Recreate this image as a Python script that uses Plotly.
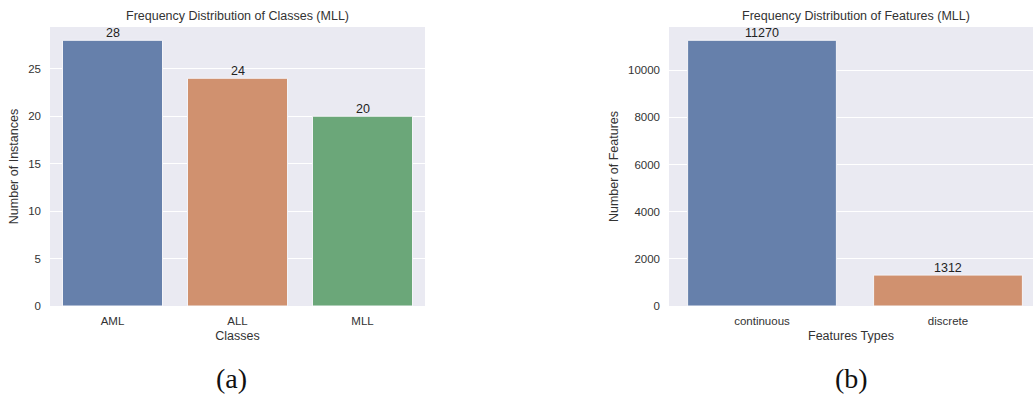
import plotly.graph_objects as go

classes = ["AML", "ALL", "MLL"]
class_counts = [28, 24, 20]
class_colors = ["#6680ab", "#d0916f", "#6ba779"]

feature_types = ["continuous", "discrete"]
feature_counts = [11270, 1312]
feature_colors = ["#6680ab", "#d0916f"]

W, H = 1033, 396
font = "Liberation Sans, Arial, sans-serif"

fig = go.Figure()
fig.add_trace(go.Bar(x=classes, y=class_counts, marker=dict(color=class_colors, line=dict(color="#f4f4f8", width=1)),
                     xaxis="x", yaxis="y", showlegend=False))
fig.add_trace(go.Bar(x=feature_types, y=feature_counts, marker=dict(color=feature_colors, line=dict(color="#f4f4f8", width=1)),
                     xaxis="x2", yaxis="y2", showlegend=False))

ydom = [(H - 306) / H, (H - 27) / H]
axfont = dict(family=font, size=11.5, color="#333")
common_y = dict(showgrid=True, gridcolor="white", gridwidth=1, zeroline=False, ticks="", tickfont=axfont,
                showline=False, automargin=False, ticklabelstandoff=8)
common_x = dict(showgrid=False, zeroline=False, ticks="", tickfont=axfont, showline=False, automargin=False,
                ticklabelstandoff=6)

anns = []
for c, v in zip(classes, class_counts):
    anns.append(dict(x=c, y=v, xref="x", yref="y", text=str(v), showarrow=False, yanchor="bottom",
                     yshift=-2, font=dict(size=12.5, color="#222")))
for c, v in zip(feature_types, feature_counts):
    anns.append(dict(x=c, y=v, xref="x2", yref="y2", text=str(v), showarrow=False, yanchor="bottom",
                     yshift=-2, font=dict(size=12.5, color="#222")))

anns += [
    dict(text="Frequency Distribution of Classes (MLL)", x=237.5 / W, y=(H - 16) / H, xref="paper", yref="paper",
         showarrow=False, font=dict(size=12.5, color="#333"), xanchor="center", yanchor="middle"),
    dict(text="Frequency Distribution of Features (MLL)", x=856 / W, y=(H - 16) / H, xref="paper", yref="paper",
         showarrow=False, font=dict(size=12.5, color="#333"), xanchor="center", yanchor="middle"),
    dict(text="(a)", x=231 / W, y=(H - 378) / H, xref="paper", yref="paper", showarrow=False,
         font=dict(family="Liberation Serif, DejaVu Serif, serif", size=28, color="#111"),
         xanchor="center", yanchor="middle"),
    dict(text="(b)", x=851 / W, y=(H - 378) / H, xref="paper", yref="paper", showarrow=False,
         font=dict(family="Liberation Serif, DejaVu Serif, serif", size=28, color="#111"),
         xanchor="center", yanchor="middle"),
]

fig.update_layout(
    width=W, height=H, margin=dict(l=0, r=0, t=0, b=0),
    paper_bgcolor="white", plot_bgcolor="#eaeaf2",
    font=dict(family=font, color="#333"),
    bargap=0.2,
    xaxis=dict(domain=[50 / W, 425 / W], range=[-0.5, 2.5], anchor="y",
               title=dict(text="Classes", font=dict(size=12.5, color="#333"), standoff=5), **common_x),
    yaxis=dict(domain=ydom, range=[0, 29.4], anchor="x", dtick=5,
               title=dict(text="Number of Instances", font=dict(size=12.5, color="#333"), standoff=6), **common_y),
    xaxis2=dict(domain=[669 / W, 1.0], range=[-0.5, 1.457], anchor="y2",
                title=dict(text="Features Types", font=dict(size=12.5, color="#333"), standoff=5), **common_x),
    yaxis2=dict(domain=ydom, range=[0, 11833], anchor="x2", dtick=2000, tickformat="d",
                title=dict(text="Number of Features", font=dict(size=12.5, color="#333"), standoff=6), **common_y),
    annotations=anns,
)

fig.write_html("out.html")
